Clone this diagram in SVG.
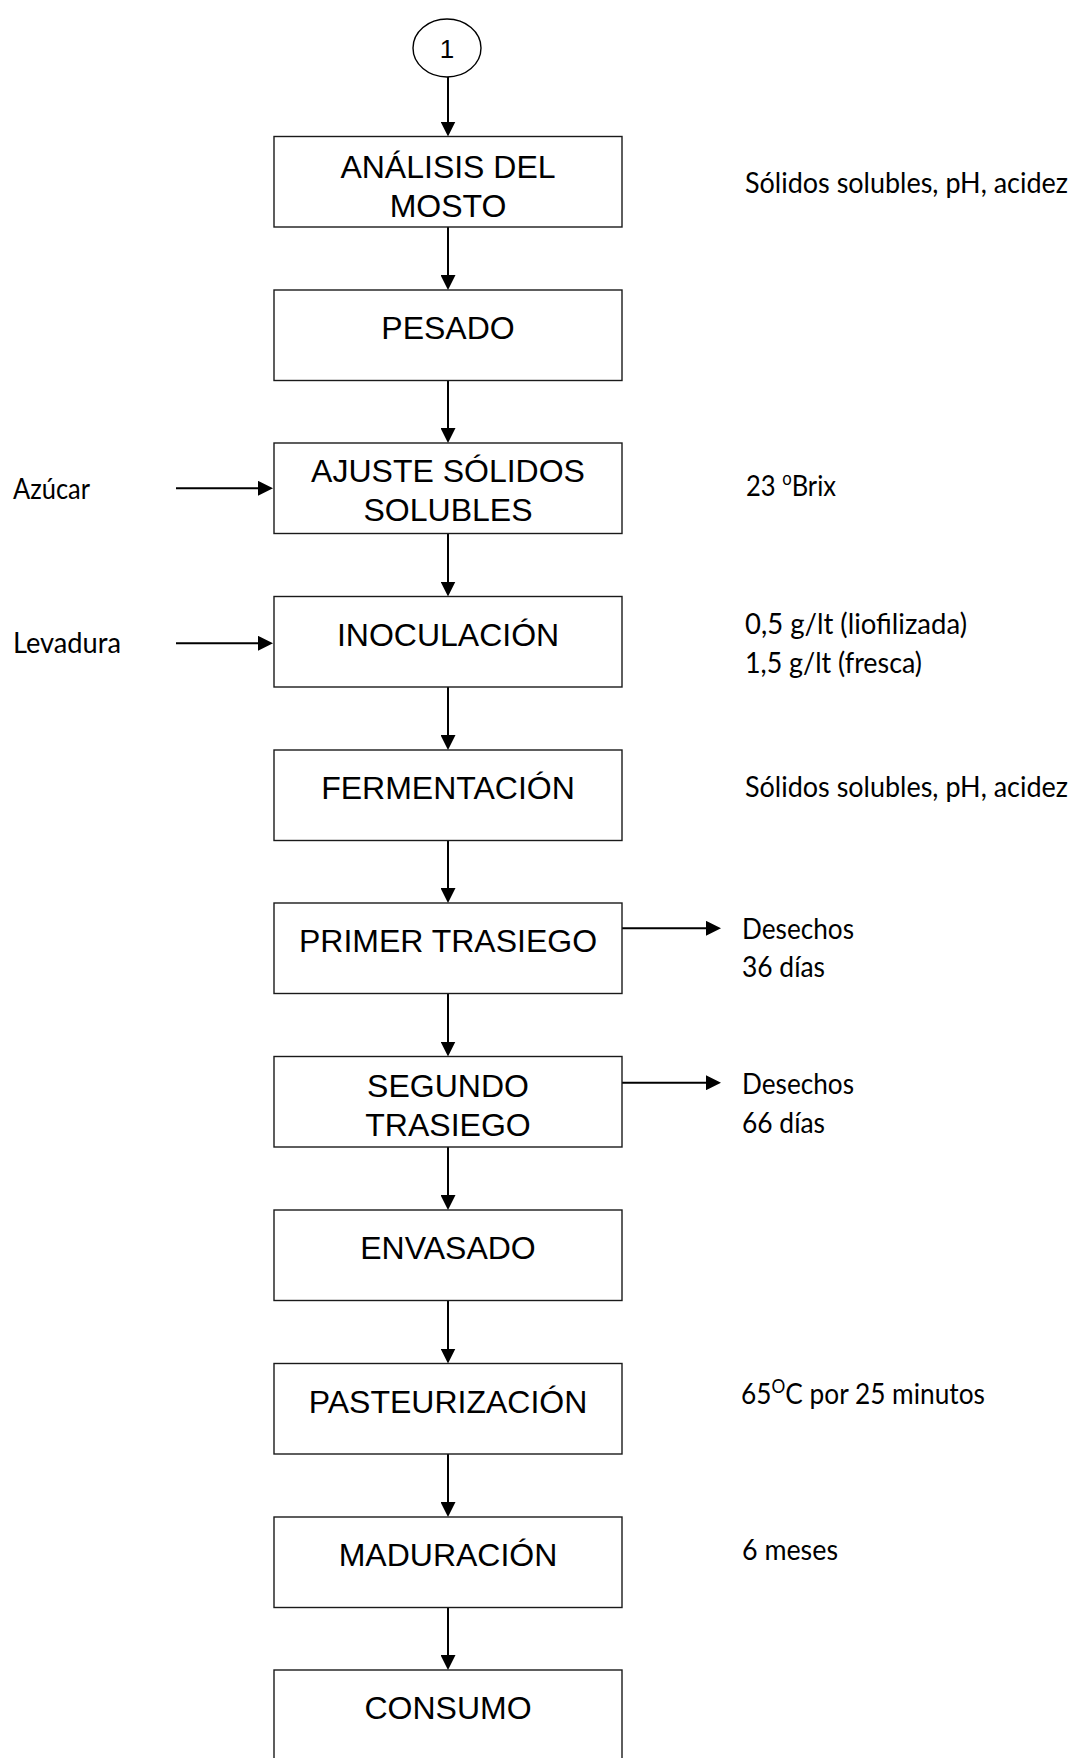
<svg xmlns="http://www.w3.org/2000/svg" width="1084" height="1758" viewBox="0 0 1084 1758">
  <style>
    .box { fill: #ffffff; stroke: #1a1a1a; stroke-width: 1.4; }
    .conn { stroke: #000000; stroke-width: 2; fill: none; marker-end: url(#arrow); }
    .step { font-family: "Liberation Sans", Arial, sans-serif; font-size: 32px; fill: #000000; text-anchor: middle; }
    .note { font-family: Lato, "Open Sans", "Liberation Sans", sans-serif; font-size: 29px; fill: #000000; }
    .note.long { font-size: 28px; }
    .sup { font-size: 19px; baseline-shift: 11px; }
  </style>
  <defs>
    <marker id="arrow" markerUnits="userSpaceOnUse" markerWidth="15" markerHeight="15" refX="9" refY="7.5" orient="auto">
      <path d="M0,0 L15,7.5 L0,15 z" fill="#000000"/>
    </marker>
  </defs>

  <rect width="1084" height="1758" fill="#ffffff"/>

  <!-- connectors -->
  <g id="connectors">
    <line class="conn" x1="448" y1="77" x2="448" y2="130.5"/>
    <line class="conn" x1="448" y1="227" x2="448" y2="284"/>
    <line class="conn" x1="448" y1="380.5" x2="448" y2="437"/>
    <line class="conn" x1="448" y1="533.5" x2="448" y2="590.5"/>
    <line class="conn" x1="448" y1="687" x2="448" y2="744"/>
    <line class="conn" x1="448" y1="840.5" x2="448" y2="897"/>
    <line class="conn" x1="448" y1="993.5" x2="448" y2="1050.5"/>
    <line class="conn" x1="448" y1="1147" x2="448" y2="1204"/>
    <line class="conn" x1="448" y1="1300.5" x2="448" y2="1357.5"/>
    <line class="conn" x1="448" y1="1454" x2="448" y2="1511"/>
    <line class="conn" x1="448" y1="1607.5" x2="448" y2="1664"/>
    <!-- inputs -->
    <line class="conn" x1="176" y1="488.3" x2="267" y2="488.3"/>
    <line class="conn" x1="176" y1="643.3" x2="267" y2="643.3"/>
    <!-- outputs -->
    <line class="conn" x1="622" y1="928.3" x2="715" y2="928.3"/>
    <line class="conn" x1="622" y1="1082.7" x2="715" y2="1082.7"/>
  </g>

  <!-- start connector -->
  <g id="start">
    <ellipse cx="447" cy="48" rx="34" ry="29" fill="#ffffff" stroke="#000000" stroke-width="1.4"/>
    <text x="447" y="58" font-family="'Liberation Sans', Arial, sans-serif" font-size="26" text-anchor="middle">1</text>
  </g>

  <!-- process steps -->
  <g id="analisis">
    <rect class="box" x="274" y="136.5" width="348" height="90.5"/>
    <text class="step" x="448" y="177.5">ANÁLISIS DEL</text>
    <text class="step" x="448" y="216.5">MOSTO</text>
  </g>
  <g id="pesado">
    <rect class="box" x="274" y="290" width="348" height="90.5"/>
    <text class="step" x="448" y="339">PESADO</text>
  </g>
  <g id="ajuste">
    <rect class="box" x="274" y="443" width="348" height="90.5"/>
    <text class="step" x="448" y="482">AJUSTE SÓLIDOS</text>
    <text class="step" x="448" y="521">SOLUBLES</text>
  </g>
  <g id="inoculacion">
    <rect class="box" x="274" y="596.5" width="348" height="90.5"/>
    <text class="step" x="448" y="645.5">INOCULACIÓN</text>
  </g>
  <g id="fermentacion">
    <rect class="box" x="274" y="750" width="348" height="90.5"/>
    <text class="step" x="448" y="799">FERMENTACIÓN</text>
  </g>
  <g id="primer-trasiego">
    <rect class="box" x="274" y="903" width="348" height="90.5"/>
    <text class="step" x="448" y="952">PRIMER TRASIEGO</text>
  </g>
  <g id="segundo-trasiego">
    <rect class="box" x="274" y="1056.5" width="348" height="90.5"/>
    <text class="step" x="448" y="1097">SEGUNDO</text>
    <text class="step" x="448" y="1136">TRASIEGO</text>
  </g>
  <g id="envasado">
    <rect class="box" x="274" y="1210" width="348" height="90.5"/>
    <text class="step" x="448" y="1259">ENVASADO</text>
  </g>
  <g id="pasteurizacion">
    <rect class="box" x="274" y="1363.5" width="348" height="90.5"/>
    <text class="step" x="448" y="1412.5">PASTEURIZACIÓN</text>
  </g>
  <g id="maduracion">
    <rect class="box" x="274" y="1517" width="348" height="90.5"/>
    <text class="step" x="448" y="1566">MADURACIÓN</text>
  </g>
  <g id="consumo">
    <rect class="box" x="274" y="1670" width="348" height="90.5"/>
    <text class="step" x="448" y="1719">CONSUMO</text>
  </g>

  <!-- inputs -->
  <g id="azucar">
    <text class="note" x="13" y="499" textLength="77" lengthAdjust="spacingAndGlyphs">Azúcar</text>
  </g>
  <g id="levadura">
    <text class="note" x="13" y="653" textLength="108" lengthAdjust="spacingAndGlyphs">Levadura</text>
  </g>

  <!-- parameters and outputs -->
  <g id="nota-analisis">
    <text class="note long" x="745" y="193" textLength="323" lengthAdjust="spacingAndGlyphs">Sólidos solubles, pH, acidez</text>
  </g>
  <g id="nota-brix">
    <text class="note" x="746" y="496" textLength="90" lengthAdjust="spacingAndGlyphs">23 <tspan class="sup">o</tspan>Brix</text>
  </g>
  <g id="nota-levadura">
    <text class="note" x="745" y="634" textLength="222" lengthAdjust="spacingAndGlyphs">0,5 g/lt (liofilizada)</text>
    <text class="note" x="745" y="673" textLength="177" lengthAdjust="spacingAndGlyphs">1,5 g/lt (fresca)</text>
  </g>
  <g id="nota-fermentacion">
    <text class="note long" x="745" y="797" textLength="323" lengthAdjust="spacingAndGlyphs">Sólidos solubles, pH, acidez</text>
  </g>
  <g id="desechos-1">
    <text class="note" x="742" y="939" textLength="112" lengthAdjust="spacingAndGlyphs">Desechos</text>
    <text class="note" x="742" y="977" textLength="83" lengthAdjust="spacingAndGlyphs">36 días</text>
  </g>
  <g id="desechos-2">
    <text class="note" x="742" y="1094" textLength="112" lengthAdjust="spacingAndGlyphs">Desechos</text>
    <text class="note" x="742" y="1133" textLength="83" lengthAdjust="spacingAndGlyphs">66 días</text>
  </g>
  <g id="nota-pasteurizacion">
    <text class="note" x="741" y="1404" textLength="244" lengthAdjust="spacingAndGlyphs">65<tspan class="sup">O</tspan>C por 25 minutos</text>
  </g>
  <g id="nota-maduracion">
    <text class="note" x="742" y="1560" textLength="96" lengthAdjust="spacingAndGlyphs">6 meses</text>
  </g>
</svg>
